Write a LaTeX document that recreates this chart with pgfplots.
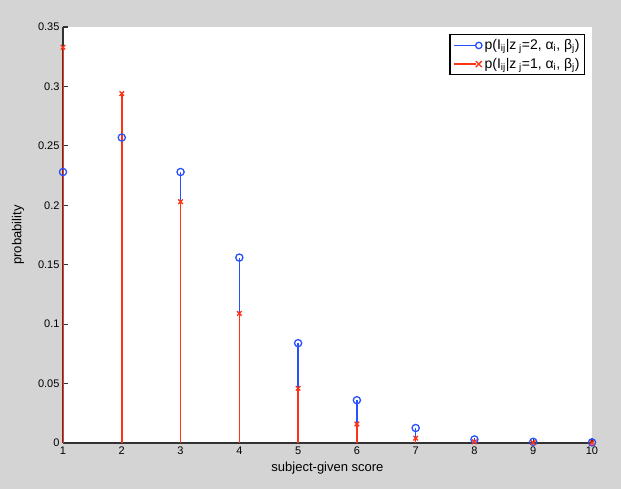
\documentclass[border=0pt]{standalone}
\usepackage{fontspec}
\setmainfont{Liberation Sans}
\usepackage{pgfplots}
\pgfplotsset{compat=1.18}
\definecolor{figbg}{RGB}{212,212,212}
\definecolor{mblue}{RGB}{40,80,255}
\definecolor{mred}{RGB}{255,50,20}
\begin{document}
\begin{tikzpicture}[x=1pt,y=1pt]
\fill[figbg] (-63,-46) rectangle (558,443);
\begin{axis}[
  at={(0,0)}, anchor=south west,
  scale only axis, width=529pt, height=416pt,
  xmin=1, xmax=10, ymin=0, ymax=0.35,
  axis x line*=bottom, axis y line*=left,
  axis line style={-, black!80, line width=1.4pt},
  axis background/.style={fill=white},
  tick align=inside,
  major tick length=5pt,
  tick style={black!80, line width=1.1pt},
  xtick={1,...,10},
  ytick={0,0.05,...,0.35},
  yticklabel style={/pgf/number format/fixed, /pgf/number format/precision=2},
  /pgf/number format/assume math mode=true,
  tick label style={font=\fontsize{11}{12}\selectfont},
  xlabel={subject-given score},
  ylabel={probability},
  label style={font=\fontsize{13}{14}\selectfont},
  xlabel style={yshift=-1pt},
  ylabel style={yshift=7pt},
  legend style={at={(rel axis cs:0.987,0.983)}, anchor=north east,
    font=\fontsize{14}{16}\selectfont, draw=black, line width=1.1pt,
    inner sep=3pt, row sep=3pt, nodes={inner sep=2pt}},
  legend cell align=left,
]
\addplot[ycomb, color=mblue, line width=1.6pt, mark=o, mark size=3.6pt, mark options={solid, draw=mblue, line width=1.3pt},
  legend image code/.code={\draw[mblue, line width=1.6pt] (0pt,0pt) -- (22pt,0pt); \draw[mblue, line width=1.3pt] (25pt,0pt) circle (3.2pt);}]
 coordinates {(1,0.228) (2,0.257) (3,0.228) (4,0.156) (5,0.084) (6,0.036) (7,0.0126) (8,0.003) (9,0.001) (10,0.0005)};
\addlegendentry{p(I\textsubscript{ij}|z\textsubscript{ j}=2, α\textsubscript{i}, β\textsubscript{j})}
\addplot[ycomb, color=mred, line width=1.6pt, mark=x, mark size=3.2pt, mark options={solid, draw=mred, line width=1.3pt},
  legend image code/.code={\draw[mred, line width=1.6pt] (0pt,0pt) -- (22pt,0pt); \draw[mred, line width=1.3pt] (22pt,-3pt) -- (28pt,3pt) (22pt,3pt) -- (28pt,-3pt);}]
 coordinates {(1,0.333) (2,0.294) (3,0.203) (4,0.109) (5,0.046) (6,0.016) (7,0.004) (8,0.001) (9,0.0003) (10,0.0001)};
\addlegendentry{p(I\textsubscript{ij}|z\textsubscript{ j}=1, α\textsubscript{i}, β\textsubscript{j})}
\end{axis}
\end{tikzpicture}
\end{document}
